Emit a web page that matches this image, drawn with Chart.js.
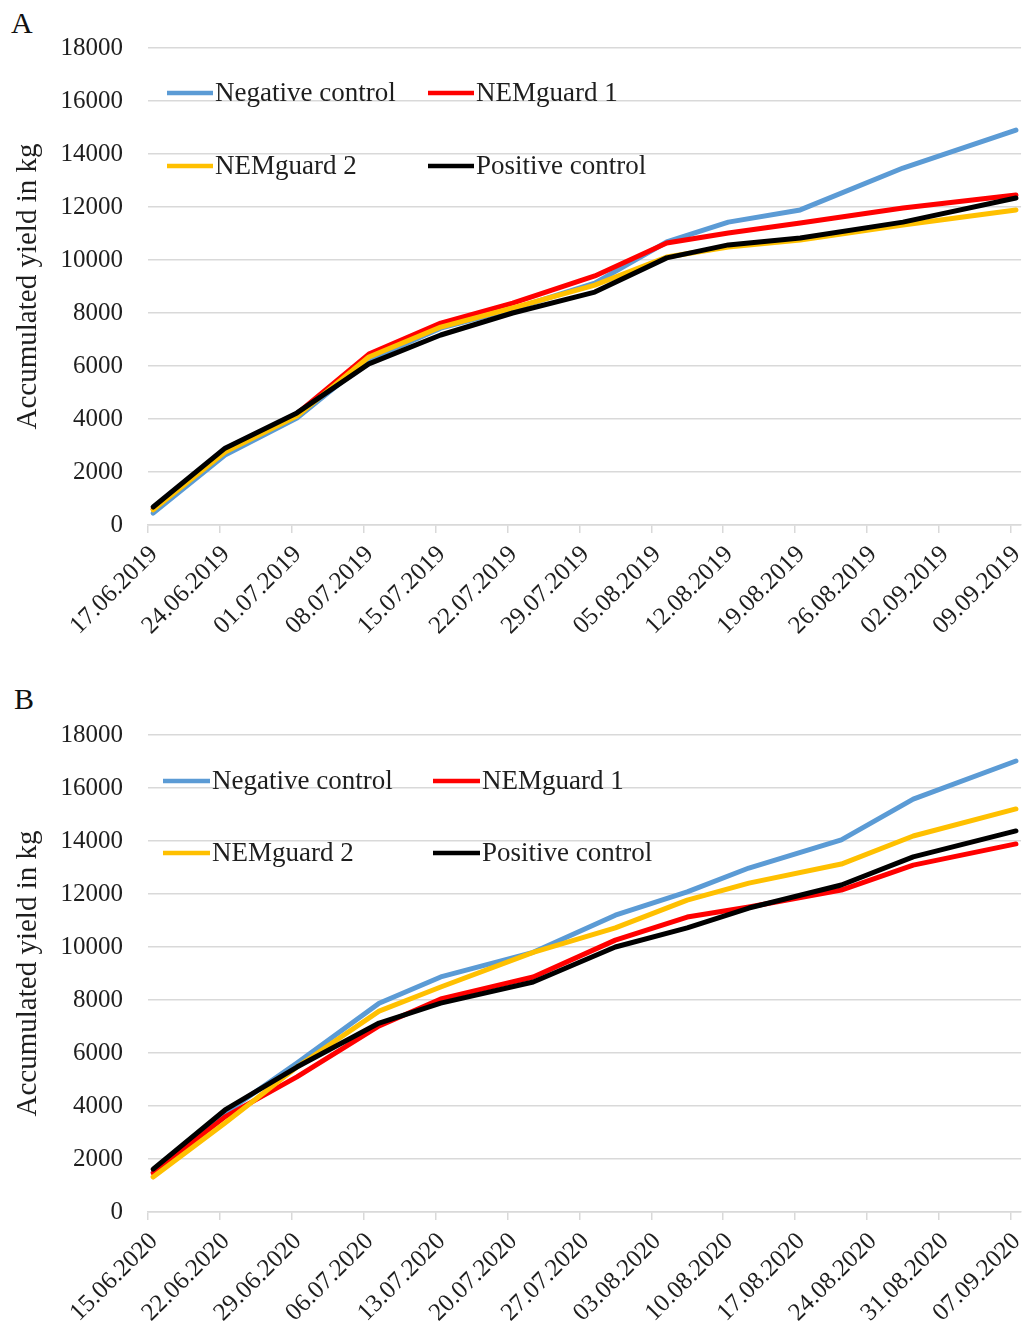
<!DOCTYPE html>
<html>
<head>
<meta charset="utf-8">
<script src="https://cdn.jsdelivr.net/npm/chart.js@4.4.0/dist/chart.umd.min.js"></script>
<style>
  body { margin: 0; background: #fff; width: 1029px; height: 1329px; position: relative; overflow: hidden; }
  .panel { position: absolute; left: 0; width: 1039px; }
  .tag { position: absolute; font-family: "Liberation Serif", serif; font-size: 30px; color: #111; }
</style>
</head>
<body>
<div class="tag" style="left:11px; top:6px;">A</div>
<div class="tag" style="left:14px; top:682px;">B</div>
<div class="panel" style="top:0; height:665px;"><canvas id="chartA" width="1039" height="665"></canvas></div>
<div class="panel" style="top:668px; height:661px;"><canvas id="chartB" width="1039" height="661"></canvas></div>
<script>
// series names + colours
const seriesNames = ['Negative control', 'NEMguard 1', 'NEMguard 2', 'Positive control'];
const seriesColors = ['#5B9BD5', '#FF0000', '#FFC000', '#000000'];

// panel A (2019) - harvest dates and accumulated yield (kg)
const datesA = ['17.06.2019', '24.06.2019', '01.07.2019', '08.07.2019', '15.07.2019', '22.07.2019',
  '30.07.2019', '06.08.2019', '12.08.2019', '19.08.2019', '29.08.2019', '09.09.2019'];
const negativeA = [450, 2640, 4040, 6230, 7430, 8150, 9130, 10680, 11430, 11890, 13470, 14900];
const nem1A = [600, 2800, 4200, 6450, 7620, 8370, 9400, 10640, 11020, 11400, 11960, 12450];
const nem2A = [570, 2750, 4110, 6340, 7470, 8190, 9050, 10110, 10490, 10750, 11320, 11890];
const positiveA = [680, 2900, 4230, 6080, 7170, 8000, 8790, 10080, 10570, 10830, 11430, 12340];
const ticksA = ['17.06.2019', '24.06.2019', '01.07.2019', '08.07.2019', '15.07.2019', '22.07.2019', '29.07.2019',
  '05.08.2019', '12.08.2019', '19.08.2019', '26.08.2019', '02.09.2019', '09.09.2019'];

// panel B (2020)
const datesB = ['15.06.2020', '22.06.2020', '29.06.2020', '07.07.2020', '13.07.2020', '22.07.2020',
  '30.07.2020', '06.08.2020', '12.08.2020', '21.08.2020', '28.08.2020', '07.09.2020'];
const negativeB = [1500, 3730, 5620, 7880, 8870, 9800, 11200, 12080, 12980, 14040, 15580, 17020];
const nem1B = [1470, 3590, 5100, 7020, 8040, 8870, 10260, 11130, 11510, 12150, 13090, 13890];
const nem2B = [1320, 3360, 5470, 7580, 8490, 9800, 10720, 11770, 12410, 13130, 14190, 15210];
const positiveB = [1620, 3850, 5470, 7130, 7880, 8680, 10000, 10720, 11470, 12340, 13400, 14380];
const ticksB = ['15.06.2020', '22.06.2020', '29.06.2020', '06.07.2020', '13.07.2020', '20.07.2020', '27.07.2020',
  '03.08.2020', '10.08.2020', '17.08.2020', '24.08.2020', '31.08.2020', '07.09.2020'];

const yTicks = [0, 2000, 4000, 6000, 8000, 10000, 12000, 14000, 16000, 18000];

const FONT = 'Liberation Serif';
const TEXT = '#1e1e1e';
const GRID = '#D9D9D9';

function toDay(s, first) {
  const p = s.split('.').map(Number);
  const q = first.split('.').map(Number);
  return (Date.UTC(p[2], p[1] - 1, p[0]) - Date.UTC(q[2], q[1] - 1, q[0])) / 86400000;
}

// legend drawn inside the plot, two rows of two
const insideLegend = {
  id: 'insideLegend',
  afterDraw(chart, args, opts) {
    const ctx = chart.ctx;
    const a = chart.chartArea;
    ctx.save();
    ctx.font = '27px "' + FONT + '"';
    ctx.textBaseline = 'middle';
    ctx.fillStyle = TEXT;
    seriesNames.forEach((name, i) => {
      const col = i % 2, row = Math.floor(i / 2);
      const x = a.left + opts.cols[col];
      const y = a.top + opts.rows[row];
      ctx.strokeStyle = seriesColors[i];
      ctx.lineWidth = 4.5;
      ctx.beginPath();
      ctx.moveTo(x, y);
      ctx.lineTo(x + opts.lineLen, y);
      ctx.stroke();
      ctx.fillText(name, x + opts.lineLen + 2, y + 1);
    });
    ctx.restore();
  }
};

function makeChart(id, dates, series, tickLabels, topPad, xHeight, legendOpts) {
  const first = tickLabels[0];
  const datasets = series.map((vals, i) => ({
    label: seriesNames[i],
    data: vals.map((v, k) => ({ x: toDay(dates[k], first) + 0.5, y: v })),
    borderColor: seriesColors[i],
    backgroundColor: seriesColors[i],
    borderWidth: 5,
    pointRadius: 0,
    tension: 0,
    borderCapStyle: 'round',
    borderJoinStyle: 'round',
    order: [3, 2, 1, 0][i]
  }));
  return new Chart(document.getElementById(id), {
    type: 'line',
    data: { datasets },
    options: {
      responsive: false,
      animation: false,
      layout: { padding: { top: topPad, right: 0, left: 0, bottom: 0 } },
      plugins: { legend: { display: false }, tooltip: { enabled: false }, insideLegend: legendOpts },
      scales: {
        x: {
          type: 'linear',
          min: 0,
          max: (tickLabels.length - 1) * 7 + 1,
          afterBuildTicks: ax => { ax.ticks = tickLabels.map((_, i) => ({ value: i * 7 })); },
          afterFit: ax => { ax.height = xHeight; },
          ticks: {
            autoSkip: false,
            maxRotation: 45,
            minRotation: 45,
            padding: 7,
            labelOffset: 6,
            color: TEXT,
            font: { family: FONT, size: 25 },
            callback: v => tickLabels[Math.round(v / 7)]
          },
          grid: { drawOnChartArea: false, drawTicks: true, tickLength: 8, color: GRID, lineWidth: 1.5 },
          border: { display: true, color: GRID, width: 1.5 }
        },
        y: {
          min: 0,
          max: 18000,
          afterBuildTicks: ax => { ax.ticks = yTicks.map(v => ({ value: v })); },
          afterFit: ax => { ax.width = 148; },
          ticks: { padding: 25, color: TEXT, font: { family: FONT, size: 25 }, callback: v => String(v) },
          grid: { color: GRID, lineWidth: 1.5, drawTicks: false },
          border: { display: false },
          title: {
            display: true,
            text: 'Accumulated yield in kg',
            color: TEXT,
            font: { family: FONT, size: 29 },
            padding: { top: 11, bottom: 0 }
          }
        }
      }
    },
    plugins: [insideLegend]
  });
}

makeChart('chartA', datesA, [negativeA, nem1A, nem2A, positiveA], ticksA, 48, 140,
  { cols: [19, 280], rows: [45, 118], lineLen: 46 });
makeChart('chartB', datesB, [negativeB, nem1B, nem2B, positiveB], ticksB, 67, 117,
  { cols: [15, 285], rows: [46, 118], lineLen: 47 });
</script>
</body>
</html>
